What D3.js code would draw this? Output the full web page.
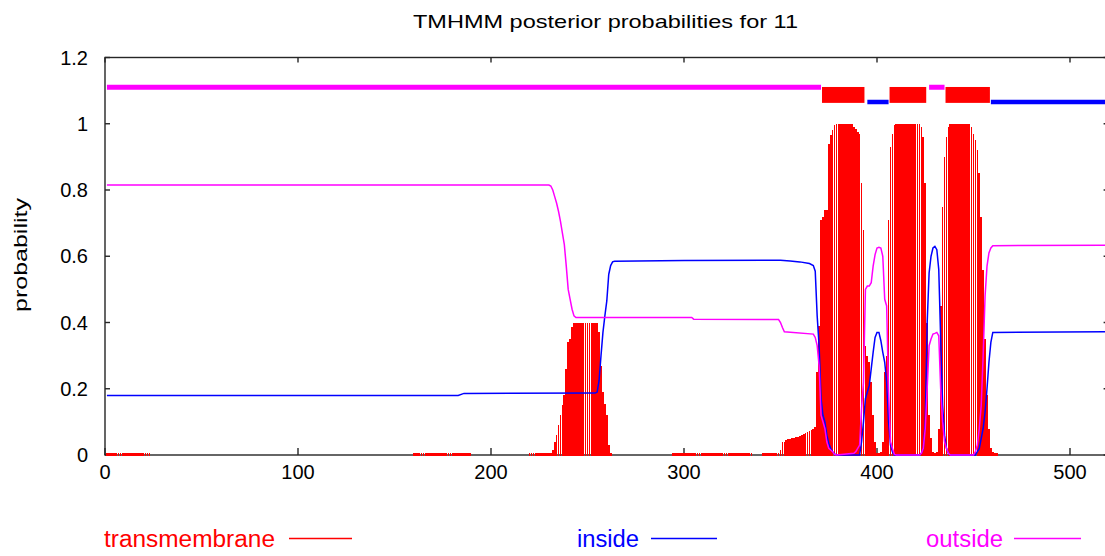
<!DOCTYPE html>
<html><head><meta charset="utf-8">
<script src="https://cdn.jsdelivr.net/npm/d3@7"></script>
<style>
body{margin:0;background:#fff;}
svg{display:block;}
text{font-family:"Liberation Sans", Arial, Helvetica, sans-serif;}
</style>
</head><body>
<svg id="chart" width="1105" height="556"></svg>
<script>
// ---------------- data ----------------
const chartTitle = "TMHMM posterior probabilities for 11";
const yAxisTitle = "probability";
const legendNames = ["transmembrane", "inside", "outside"];
const xTickValues = [0, 100, 200, 300, 400, 500];
const yTickValues = [0, 0.2, 0.4, 0.6, 0.8, 1, 1.2];
const yTickLabels = ["0", "0.2", "0.4", "0.6", "0.8", "1", "1.2"];
const seqLength = 520;

// transmembrane posterior (impulses), per residue, by stretch; residues not listed are 0
const tmStarts = [1, 160, 220, 294, 341];
const tmStretch1 = [0.005,0.005,0.005,0.005,0.005,0.005,0.005,0.005,0.005,0.005,0.005,0.005,0.005,0.005,0.005,0.005,0.005,0.005,0.005,0.005,0.005,0.005,0.005];
const tmStretch2 = [0.005,0.005,0.005,0.005,0.005,0.005,0.005,0.005,0.005,0.005,0.005,0.005,0.005,0.005,0.005,0.005,0.005,0.005,0.005,0.005,0.005,0.005,0.005,0.005,0.005,0.005,0.005,0.005,0.005,0.005];
const tmStretch3 = [0.005,0.005,0.005,0.005,0.005,0.005,0.005,0.005,0.005,0.005,0.005,0.005,
  0.015,0.04,0.06,0.09,0.12,0.15,0.18,0.26,0.34,0.35,0.385,
  0.4,0.4,0.4,0.4,0.4,0.4,0.4,0.4,0.4,0.4,0.4,0.4,0.4,
  0.37,0.27,0.19,0.155,0.12,0.03,0.005];
const tmStretch4 = [0.005,0.005,0.005,0.005,0.005,0.005,0.005,0.005,0.005,0.005,0.005,0.005,0.005,0.005,0.005,0.005,0.005,0.005,0.005,0.005,0.005,0.005,0.005,0.005,0.005,0.005,0.005,0.005,0.005,0.005,0.005,0.005,0.005,0.005,0.005,0.005,0.005,0.005,0.005,0.005,0.005,0.005];
const tmStretch5 = [0.005,0.005,0.005,0.005,0.005,0.005,0.005,0.005,0.005,
  0.015,0.04,0.04,0.045,0.047,0.048,0.05,0.05,0.053,0.055,0.057,0.06,0.063,0.066,0.07,0.072,0.075,0.08,0.085,
  0.25,0.39,0.71,0.72,0.74,0.74,0.94,0.965,0.98,0.995,
  1,1,1,1,1,1,1,1,1,
  0.99,0.985,0.975,0.97,0.82,0.68,0.33,0.30,0.28,0.22,0.12,0.04,0.005,0.005,0.01,0.04,0.25,0.30,0.71,0.93,0.97,0.995,
  1,1,1,1,1,1,1,1,1,1,1,1,1,
  0.99,0.96,0.82,0.4,0.12,0.05,0.01,0.005,0.01,0.08,0.45,0.75,0.9,0.96,0.99,
  1,1,1,1,1,1,1,1,1,1,1,
  0.99,0.97,0.95,0.92,0.85,0.72,0.56,0.35,0.18,0.08,0.02,0.008,0.005,0.003];
const tmStretches = [tmStretch1, tmStretch2, tmStretch3, tmStretch4, tmStretch5];

// inside posterior (blue line): [residue, probability]
const insidePoints = [[1,0.180],[183,0.180],[186,0.186],[254,0.187],[255,0.19],[256,0.225],[257,0.30],[258,0.37],[259,0.42],[260,0.465],[261,0.545],[262,0.572],[263,0.583],[264,0.585],[300,0.587],[350,0.588],[355,0.586],[360,0.583],[365,0.578],[367,0.572],[368,0.555],[369,0.42],[370,0.33],[371,0.17],[372,0.12],[373,0.10],[374,0.06],[375,0.035],[376,0.02],[377,0.01],[378,0.003],[379,0],[391,0],[392,0.04],[393,0.10],[394,0.17],[395,0.19],[396,0.21],[397,0.26],[398,0.31],[399,0.355],[400,0.37],[401,0.37],[402,0.345],[403,0.31],[404,0.28],[405,0.22],[406,0.10],[407,0.03],[408,0.01],[409,0],[422,0],[423,0.005],[424,0.02],[425,0.1],[426,0.4],[427,0.55],[428,0.6],[429,0.625],[430,0.63],[431,0.62],[432,0.56],[433,0.35],[434,0.15],[435,0.06],[436,0.02],[437,0.005],[438,0],[451,0],[452,0.01],[453,0.02],[454,0.05],[455,0.08],[456,0.13],[457,0.2],[458,0.28],[459,0.34],[460,0.37],[520,0.372]];

// outside posterior (magenta line): [residue, probability]
const outsidePoints = [[1,0.815],[230,0.815],[231,0.812],[232,0.80],[233,0.78],[234,0.76],[235,0.735],[236,0.705],[237,0.67],[238,0.635],[239,0.57],[240,0.50],[241,0.47],[242,0.44],[243,0.42],[244,0.415],[304,0.415],[305,0.41],[349,0.409],[350,0.40],[351,0.385],[352,0.372],[367,0.365],[368,0.355],[369,0.33],[370,0.27],[371,0.12],[372,0.10],[373,0.08],[374,0.04],[375,0.02],[376,0.015],[377,0.01],[378,0.002],[379,0],[388,0.005],[389,0.01],[390,0.02],[391,0.03],[392,0.14],[393,0.22],[394,0.50],[395,0.51],[396,0.51],[397,0.52],[398,0.57],[399,0.605],[400,0.625],[401,0.627],[402,0.625],[403,0.60],[404,0.47],[405,0.45],[406,0.19],[407,0.04],[408,0.02],[409,0.002],[410,0],[422,0],[423,0.005],[424,0.02],[425,0.08],[426,0.2],[427,0.33],[428,0.35],[429,0.365],[430,0.367],[431,0.37],[432,0.36],[433,0.2],[434,0.1],[435,0.04],[436,0.02],[437,0.005],[438,0],[450,0],[451,0.01],[452,0.03],[453,0.08],[454,0.15],[455,0.3],[456,0.48],[457,0.57],[458,0.61],[459,0.625],[460,0.632],[520,0.633]];

// predicted topology (top track): [first residue, last residue]
const topoOutside = [[1,371],[427,435]];
const topoInside = [[395,406],[459,520]];
const topoHelix = [[372,393],[407,425],[436,458]];
const topoOutsideLevel = 1.11;
const topoInsideLevel = 1.066;
const topoHelixRange = [1.063, 1.111];

// ---------------- drawing ----------------
const W = 1105, H = 556;
const colTM = "#ff0000", colIn = "#0000ff", colOut = "#ff00ff";
const svg = d3.select("#chart");
svg.append("rect").attr("width", W).attr("height", H).attr("fill", "#fff");

const x = d3.scaleLinear().domain([0, seqLength]).range([105, 105 + 1.93 * seqLength]);
const y = d3.scaleLinear().domain([0, 1.2]).range([455, 57.5]);
const x0 = x(0), x1 = x(seqLength), y0 = y(0), y1 = y(1.2);
const axisColor = "#262626";

// frame
svg.append("rect").attr("x", x0).attr("y", y1).attr("width", x1 - x0).attr("height", y0 - y1)
  .attr("fill", "none").attr("stroke", axisColor).attr("stroke-width", 1.4);

// ticks
const tickG = svg.append("g").attr("stroke", axisColor).attr("stroke-width", 1.4);
tickG.selectAll("line.yl").data(yTickValues).join("line")
  .attr("x1", x0).attr("x2", x0 + 5).attr("y1", d => y(d)).attr("y2", d => y(d));
tickG.selectAll("line.yr").data(yTickValues).join("line")
  .attr("x1", x1).attr("x2", x1 - 5).attr("y1", d => y(d)).attr("y2", d => y(d));
tickG.selectAll("line.xb").data(xTickValues).join("line")
  .attr("x1", d => x(d)).attr("x2", d => x(d)).attr("y1", y0).attr("y2", y0 - 7);
tickG.selectAll("line.xt").data(xTickValues).join("line")
  .attr("x1", d => x(d)).attr("x2", d => x(d)).attr("y1", y1).attr("y2", y1 + 5);

// tick labels
svg.append("g").selectAll("text").data(yTickValues).join("text")
  .attr("x", 88).attr("y", d => y(d) + 7).attr("text-anchor", "end")
  .attr("font-size", 20).attr("fill", "#000")
  .text((d, i) => yTickLabels[i]);
svg.append("g").selectAll("text").data(xTickValues).join("text")
  .attr("x", d => x(d)).attr("y", 479).attr("text-anchor", "middle")
  .attr("font-size", 20).attr("fill", "#000")
  .text(d => d);

// title
svg.append("text").attr("x", 413).attr("y", 28).attr("font-size", 18.5)
  .attr("textLength", 385).attr("lengthAdjust", "spacingAndGlyphs").attr("fill", "#000")
  .text(chartTitle);

// y axis title
svg.append("text").attr("transform", "translate(27,255) rotate(-90)")
  .attr("text-anchor", "middle").attr("font-size", 19).attr("fill", "#000")
  .attr("textLength", 114).attr("lengthAdjust", "spacingAndGlyphs")
  .text(yAxisTitle);

// plot clip
svg.append("clipPath").attr("id", "plotClip").append("rect")
  .attr("x", x0).attr("y", y1).attr("width", x1 - x0).attr("height", y0 - y1 + 2);
const plot = svg.append("g").attr("clip-path", "url(#plotClip)");

// TM impulses
const tmData = [];
tmStretches.forEach((arr, k) => arr.forEach((v, i) => tmData.push({ r: tmStarts[k] + i, v })));
const step = x(1) - x(0);
const barW = step * 0.89;
plot.append("g").attr("shape-rendering", "crispEdges").selectAll("rect").data(tmData.filter(d => d.v > 0)).join("rect")
  .attr("x", d => x(d.r) - barW / 2).attr("width", barW)
  .attr("y", d => Math.min(y(d.v), y0 - 1.6)).attr("height", d => y0 - Math.min(y(d.v), y0 - 1.6) + 1)
  .attr("fill", colTM);

// posterior lines
const line = d3.line().x(d => x(d[0])).y(d => y(d[1]));
plot.append("path").attr("d", line(insidePoints)).attr("fill", "none").attr("stroke", colIn).attr("stroke-width", 1.5);
plot.append("path").attr("d", line(outsidePoints)).attr("fill", "none").attr("stroke", colOut).attr("stroke-width", 1.5);

// topology track
plot.selectAll("line.to").data(topoOutside).join("line")
  .attr("x1", d => x(d[0])).attr("x2", d => x(d[1]))
  .attr("y1", y(topoOutsideLevel)).attr("y2", y(topoOutsideLevel))
  .attr("stroke", colOut).attr("stroke-width", 5);
plot.selectAll("line.ti").data(topoInside).join("line")
  .attr("x1", d => x(d[0])).attr("x2", d => x(d[1]))
  .attr("y1", y(topoInsideLevel)).attr("y2", y(topoInsideLevel))
  .attr("stroke", colIn).attr("stroke-width", 4.5);
plot.selectAll("rect.th").data(topoHelix).join("rect")
  .attr("x", d => x(d[0] - 0.5)).attr("width", d => x(d[1] + 0.5) - x(d[0] - 0.5))
  .attr("y", y(topoHelixRange[1])).attr("height", y(topoHelixRange[0]) - y(topoHelixRange[1]))
  .attr("fill", colTM);

// legend
const legendX = [104, 577, 926];
const legendLen = [171, 62, 77];
const legendLine = [[289, 352], [651, 717], [1014, 1081]];
const legendCols = [colTM, colIn, colOut];
const lg = svg.append("g");
legendNames.forEach((n, i) => {
  lg.append("text").attr("x", legendX[i]).attr("y", 547).attr("font-size", 23.5)
    .attr("textLength", legendLen[i]).attr("lengthAdjust", "spacingAndGlyphs")
    .attr("fill", legendCols[i]).text(n);
  lg.append("line").attr("x1", legendLine[i][0]).attr("x2", legendLine[i][1])
    .attr("y1", 538.5).attr("y2", 538.5).attr("stroke", legendCols[i]).attr("stroke-width", 1.5);
});
</script>
</body></html>
